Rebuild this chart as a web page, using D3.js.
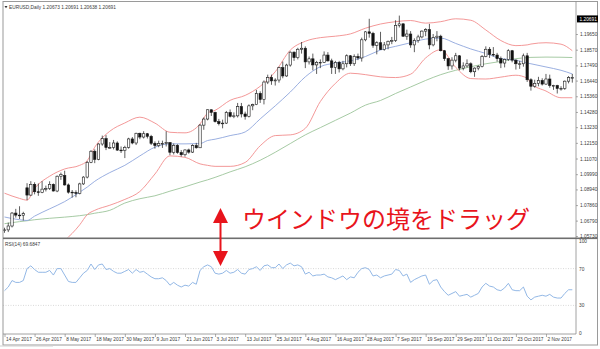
<!DOCTYPE html>
<html>
<head>
<meta charset="utf-8">
<script src="https://cdn.jsdelivr.net/npm/d3@7.9.0/dist/d3.min.js"></script>
<style>
  html, body { margin: 0; padding: 0; background: #fff; }
  svg { display: block; font-family: "Liberation Sans", Arial, sans-serif; }
</style>
</head>
<body>
<svg id="chart" width="600" height="349"></svg>
<script>
// EURUSD daily, 14 Apr 2017 - 13 Nov 2017 (one value per bar)
const opens = [
  1.0612,1.0615,1.0642,1.0731,1.0717,1.0716,1.0905,1.0855,1.0929,1.0878,
  1.0873,1.0896,1.0900,1.0929,1.0883,1.0985,1.0990,1.0925,1.0875,1.0873,
  1.0866,1.0932,1.0979,1.1081,1.1157,1.1101,1.1207,1.1244,1.1183,1.1183,
  1.1214,1.1165,1.1164,1.1184,1.1242,1.1214,1.1281,1.1255,1.1278,1.1260,
  1.1212,1.1196,1.1211,1.1211,1.1217,1.1150,1.1198,1.1148,1.1133,1.1166,
  1.1151,1.1196,1.1181,1.1337,1.1379,1.1443,1.1425,1.1361,1.1347,1.1351,
  1.1424,1.1398,1.1401,1.1465,1.1414,1.1397,1.1470,1.1478,1.1556,1.1514,
  1.1634,1.1666,1.1642,1.1648,1.1733,1.1676,1.1751,1.1840,1.1802,1.1860,
  1.1867,1.1773,1.1794,1.1752,1.1770,1.1770,1.1820,1.1780,1.1735,1.1770,
  1.1725,1.1760,1.1815,1.1760,1.1810,1.1800,1.1925,1.1980,1.1970,1.1887,
  1.1905,1.1858,1.1890,1.1915,1.1920,1.2025,1.2035,1.1950,1.1965,1.1890,
  1.1920,1.1945,1.1985,1.1995,1.1890,1.1940,1.1950,1.1850,1.1795,1.1745,
  1.1785,1.1815,1.1730,1.1745,1.1760,1.1705,1.1730,1.1740,1.1810,1.1860,
  1.1825,1.1820,1.1795,1.1765,1.1790,1.1850,1.1785,1.1760,1.1760,1.1815,
  1.1650,1.1605,1.1625,1.1645,1.1620,1.1655,1.1610,1.1610,1.1590,1.1590,
  1.1640,1.1665
];
const highs = [
  1.0630,1.0665,1.0738,1.0760,1.0778,1.0740,1.0937,1.0951,1.0943,1.0935,
  1.0951,1.0920,1.0950,1.0935,1.0990,1.1010,1.1023,1.0935,1.0890,1.0888,
  1.0940,1.0985,1.1090,1.1165,1.1170,1.1212,1.1265,1.1268,1.1220,1.1235,
  1.1225,1.1190,1.1195,1.1250,1.1255,1.1285,1.1285,1.1295,1.1283,1.1270,
  1.1225,1.1230,1.1230,1.1295,1.1220,1.1210,1.1205,1.1165,1.1170,1.1175,
  1.1205,1.1215,1.1345,1.1390,1.1445,1.1445,1.1430,1.1380,1.1375,1.1435,
  1.1445,1.1425,1.1490,1.1490,1.1430,1.1480,1.1485,1.1580,1.1570,1.1645,
  1.1685,1.1685,1.1660,1.1740,1.1775,1.1760,1.1845,1.1845,1.1870,1.1910,
  1.1880,1.1810,1.1830,1.1780,1.1790,1.1845,1.1840,1.1795,1.1780,1.1780,
  1.1780,1.1825,1.1820,1.1825,1.1830,1.1940,1.1985,1.2070,1.1980,1.1915,
  1.1980,1.1910,1.1920,1.1945,1.2060,1.2092,1.2040,1.1995,1.1985,1.1935,
  1.1960,1.1990,1.2005,1.2035,1.1965,1.1985,1.1960,1.1855,1.1800,1.1805,
  1.1835,1.1820,1.1770,1.1790,1.1770,1.1735,1.1750,1.1820,1.1880,1.1875,
  1.1875,1.1835,1.1810,1.1795,1.1860,1.1855,1.1790,1.1780,1.1830,1.1835,
  1.1660,1.1650,1.1670,1.1660,1.1690,1.1685,1.1615,1.1615,1.1605,1.1645,
  1.1675,1.1690
];
const lows = [
  1.0595,1.0600,1.0632,1.0700,1.0690,1.0680,1.0820,1.0850,1.0860,1.0850,
  1.0868,1.0880,1.0890,1.0880,1.0875,1.0960,1.0920,1.0865,1.0838,1.0840,
  1.0860,1.0925,1.0970,1.1075,1.1075,1.1095,1.1195,1.1165,1.1175,1.1170,
  1.1160,1.1145,1.1110,1.1175,1.1205,1.1200,1.1240,1.1245,1.1245,1.1200,
  1.1175,1.1185,1.1180,1.1190,1.1130,1.1135,1.1140,1.1120,1.1120,1.1140,
  1.1145,1.1175,1.1180,1.1305,1.1370,1.1400,1.1355,1.1335,1.1315,1.1345,
  1.1390,1.1385,1.1390,1.1390,1.1375,1.1390,1.1440,1.1475,1.1490,1.1480,
  1.1620,1.1615,1.1610,1.1630,1.1660,1.1670,1.1740,1.1780,1.1790,1.1830,
  1.1730,1.1755,1.1715,1.1690,1.1730,1.1765,1.1775,1.1690,1.1690,1.1700,
  1.1715,1.1735,1.1745,1.1745,1.1785,1.1775,1.1915,1.1940,1.1870,1.1825,
  1.1855,1.1850,1.1860,1.1895,1.1910,1.2010,1.1945,1.1925,1.1870,1.1840,
  1.1905,1.1935,1.1950,1.1860,1.1880,1.1915,1.1845,1.1780,1.1718,1.1720,
  1.1770,1.1715,1.1715,1.1735,1.1695,1.1670,1.1715,1.1735,1.1805,1.1800,
  1.1810,1.1775,1.1730,1.1735,1.1780,1.1770,1.1720,1.1725,1.1740,1.1635,
  1.1575,1.1595,1.1605,1.1610,1.1615,1.1595,1.1580,1.1555,1.1575,1.1580,
  1.1625,1.1630
];
const closes = [
  1.0615,1.0642,1.0731,1.0717,1.0716,1.0727,1.0855,1.0929,1.0878,1.0873,
  1.0896,1.0900,1.0929,1.0883,1.0985,1.0998,1.0925,1.0875,1.0873,1.0866,
  1.0932,1.0979,1.1081,1.1157,1.1101,1.1207,1.1244,1.1183,1.1183,1.1214,
  1.1165,1.1164,1.1184,1.1242,1.1214,1.1281,1.1255,1.1278,1.1260,1.1212,
  1.1196,1.1211,1.1211,1.1217,1.1150,1.1198,1.1148,1.1133,1.1166,1.1151,
  1.1196,1.1181,1.1337,1.1379,1.1443,1.1425,1.1361,1.1347,1.1351,1.1424,
  1.1398,1.1401,1.1465,1.1414,1.1397,1.1470,1.1478,1.1556,1.1514,1.1634,
  1.1666,1.1642,1.1648,1.1733,1.1676,1.1751,1.1840,1.1802,1.1860,1.1867,
  1.1773,1.1794,1.1752,1.1770,1.1770,1.1820,1.1780,1.1735,1.1770,1.1725,
  1.1760,1.1815,1.1760,1.1810,1.1800,1.1925,1.1980,1.1970,1.1887,1.1905,
  1.1858,1.1890,1.1915,1.1920,1.2025,1.2035,1.1950,1.1965,1.1890,1.1920,
  1.1945,1.1985,1.1995,1.1890,1.1940,1.1950,1.1850,1.1795,1.1745,1.1785,
  1.1815,1.1730,1.1745,1.1760,1.1705,1.1730,1.1740,1.1810,1.1860,1.1825,
  1.1820,1.1795,1.1765,1.1790,1.1850,1.1785,1.1760,1.1760,1.1815,1.1650,
  1.1605,1.1625,1.1645,1.1620,1.1655,1.1610,1.1610,1.1590,1.1590,1.1640,
  1.1665,1.1665
];

// Bollinger bands (20) and long moving average, read at these bar indexes
const bandIdx = [0,4,6,8,12,16,20,22,24,28,32,36,40,44,48,52,54,56,60,64,68,72,76,80,84,88,92,96,100,104,108,112,116,120,124,128,132,136,139,140,144,148,151];
const upperBand = [1.0868,1.0832,1.0820,1.0900,1.0985,1.1035,1.1060,1.1092,1.1185,1.1295,1.1352,1.1392,1.1351,1.1288,1.1284,1.1345,1.1420,1.1439,1.1508,1.1542,1.1605,1.1705,1.1854,1.1915,1.1940,1.1950,1.1966,1.2005,1.2034,1.2050,1.2058,1.2040,1.2050,1.2070,1.2060,1.1993,1.1920,1.1885,1.1890,1.1896,1.1905,1.1895,1.1850];
const middleBand = [1.0704,1.0685,1.0680,1.0710,1.0760,1.0810,1.0875,1.0910,1.0950,1.1010,1.1060,1.1125,1.1185,1.1208,1.1208,1.1210,1.1231,1.1240,1.1265,1.1290,1.1380,1.1470,1.1565,1.1670,1.1740,1.1765,1.1780,1.1810,1.1855,1.1880,1.1905,1.1930,1.1937,1.1900,1.1862,1.1831,1.1795,1.1785,1.1765,1.1760,1.1738,1.1715,1.1690];
const lowerBand = [1.0500,1.0520,1.0480,1.0470,1.0500,1.0545,1.0650,1.0720,1.0750,1.0785,1.0825,1.0880,1.1000,1.1125,1.1115,1.1070,1.1060,1.1053,1.1053,1.1080,1.1195,1.1265,1.1270,1.1315,1.1500,1.1625,1.1695,1.1685,1.1670,1.1665,1.1688,1.1800,1.1857,1.1735,1.1658,1.1655,1.1668,1.1681,1.1660,1.1625,1.1572,1.1526,1.1526];
const longMA = [1.0658,1.0672,1.0678,1.0685,1.0695,1.0703,1.0713,1.0720,1.0730,1.0750,1.0800,1.0830,1.0850,1.0882,1.0912,1.0945,1.0960,1.0977,1.1015,1.1050,1.1095,1.1150,1.1210,1.1270,1.1320,1.1370,1.1420,1.1475,1.1507,1.1555,1.1600,1.1645,1.1685,1.1715,1.1740,1.1760,1.1776,1.1795,1.1802,1.1804,1.1806,1.1805,1.1803];

// RSI(14), one value per bar
const rsi = [
  46,50,57,55,55,57,70,73,69,66,
  66,66,68,63,70,70,63,56,55,55,
  60,65,68,75,69,74,75,69,70,67,
  65,65,67,69,65,69,66,67,64,61,
  59,59,60,57,52,55,52,50,52,51,
  55,53,68,72,74,72,65,64,65,68,
  65,66,69,65,64,69,70,72,68,73,
  74,71,71,75,70,74,76,73,74,72,
  64,66,62,63,63,64,61,60,58,60,
  62,58,61,60,66,70,71,69,62,63,
  60,62,63,64,69,68,62,64,55,58,
  60,62,63,53,57,58,50,45,41,43,
  45,40,41,42,39,41,43,50,54,51,
  50,47,46,49,54,47,46,46,50,40,
  36,39,40,41,40,42,39,38,38,43,
  47,47
];

// axis labels
const priceTicks = [1.0573,1.0679,1.0786,1.0894,1.0999,1.1107,1.1215,1.1323,1.1428,1.1536,1.1644,1.1749,1.1857,1.1965];
const rsiTicks = [100, 70, 30, 0];
const rsiLevels = [70, 30];
const dateLabels = ['14 Apr 2017','26 Apr 2017','8 May 2017','18 May 2017','30 May 2017','9 Jun 2017','21 Jun 2017','3 Jul 2017','13 Jul 2017','25 Jul 2017','4 Aug 2017','16 Aug 2017','28 Aug 2017','7 Sep 2017','19 Sep 2017','29 Sep 2017','11 Oct 2017','23 Oct 2017','2 Nov 2017'];
const dateStep = 8;
const lastPrice = 1.20691;

const svg = d3.select('#chart');
const plotL = 3, plotR = 576, mainTop = 3, mainBottom = 237.5, rsiTop = 239, rsiBottom = 334;
const fontSize = 4.8;
const textColor = '#3a3a3a';

const x = d3.scaleLinear().domain([0, closes.length - 1]).range([4.5, 572.3]);
const yMain = d3.scaleLinear().domain([1.0573, 1.2165]).range([236, 5]);
const yRsi = d3.scaleLinear().domain([0, 100]).range([333, 241]);

// clip for main window
svg.append('clipPath').attr('id', 'mainClip')
  .append('rect')
  .attr('x', plotL).attr('y', mainTop)
  .attr('width', plotR - plotL).attr('height', mainBottom - mainTop);

const main = svg.append('g').attr('clip-path', 'url(#mainClip)');

// -------------------- BANDS + MA -------------------- //
const bandLine = vals => d3.line()
  .x((d, i) => x(bandIdx[i]))
  .y(d => yMain(d))
  .curve(d3.curveMonotoneX)(vals);

main.append('path').attr('d', bandLine(longMA))
  .attr('fill', 'none').attr('stroke', '#9cc49a').attr('stroke-width', 0.9);
main.append('path').attr('d', bandLine(middleBand))
  .attr('fill', 'none').attr('stroke', '#8ea6dc').attr('stroke-width', 0.9);
[upperBand, lowerBand].forEach(b => {
  main.append('path').attr('d', bandLine(b))
    .attr('fill', 'none').attr('stroke', '#f28c8c').attr('stroke-width', 0.9);
});

// -------------------- CANDLES -------------------- //
const bars = d3.range(closes.length);
const bodyW = 2.4;

main.selectAll('.wick')
  .data(bars)
  .join('line')
  .attr('class', 'wick')
  .attr('x1', i => x(i)).attr('x2', i => x(i))
  .attr('y1', i => yMain(highs[i])).attr('y2', i => yMain(lows[i]))
  .attr('stroke', '#1a1a1a').attr('stroke-width', 0.7);

main.selectAll('.body')
  .data(bars)
  .join('rect')
  .attr('class', 'body')
  .attr('x', i => x(i) - bodyW / 2)
  .attr('y', i => yMain(Math.max(opens[i], closes[i])))
  .attr('width', bodyW)
  .attr('height', i => Math.max(0.7, Math.abs(yMain(opens[i]) - yMain(closes[i]))))
  .attr('fill', i => closes[i] >= opens[i] ? '#fff' : '#111')
  .attr('stroke', '#1a1a1a').attr('stroke-width', 0.6);

// -------------------- RSI -------------------- //
svg.selectAll('.level')
  .data(rsiLevels)
  .join('line')
  .attr('class', 'level')
  .attr('x1', plotL).attr('x2', plotR)
  .attr('y1', d => yRsi(d)).attr('y2', d => yRsi(d))
  .attr('stroke', '#c8c8c8').attr('stroke-width', 0.7)
  .attr('stroke-dasharray', '1,1.5');

svg.append('path')
  .datum(rsi)
  .attr('d', d3.line().x((d, i) => x(i)).y(d => yRsi(d)))
  .attr('fill', 'none').attr('stroke', '#93b8e6').attr('stroke-width', 1);

// -------------------- FRAMES -------------------- //
svg.append('rect')
  .attr('x', plotL).attr('y', 1.5).attr('width', 597.5 - plotL).attr('height', 345 - 1.5)
  .attr('fill', 'none').attr('stroke', '#9a9a9a').attr('stroke-width', 1);
svg.append('line')
  .attr('x1', plotR).attr('x2', plotR).attr('y1', 1.5).attr('y2', rsiBottom)
  .attr('stroke', '#8a8a8a').attr('stroke-width', 0.8);
svg.append('line')
  .attr('x1', plotL).attr('x2', plotR).attr('y1', rsiBottom).attr('y2', rsiBottom)
  .attr('stroke', '#8a8a8a').attr('stroke-width', 0.8);
svg.append('rect')
  .attr('x', plotL).attr('y', mainBottom).attr('width', 597.5 - plotL).attr('height', 1.6)
  .attr('fill', '#6e6e6e');

// -------------------- AXES -------------------- //
const priceAxis = svg.append('g')
  .attr('transform', `translate(${plotR},0)`)
  .call(d3.axisRight(yMain).tickValues(priceTicks).tickFormat(d3.format('.5f')).tickSize(2).tickPadding(2));

const rsiAxis = svg.append('g')
  .attr('transform', `translate(${plotR},0)`)
  .call(d3.axisRight(yRsi).tickValues(rsiTicks).tickSize(0).tickPadding(3));

const dateAxis = svg.append('g')
  .attr('transform', `translate(0,${rsiBottom})`)
  .call(d3.axisBottom(x)
    .tickValues(dateLabels.map((d, i) => i * dateStep))
    .tickFormat((d, i) => dateLabels[i])
    .tickSize(3).tickPadding(1));
dateAxis.selectAll('text').attr('text-anchor', 'start').attr('dx', 1);

[priceAxis, rsiAxis, dateAxis].forEach(g => {
  g.select('.domain').remove();
  g.selectAll('text').attr('font-size', fontSize).attr('fill', textColor).attr('font-family', '"Liberation Sans", Arial, sans-serif');
  g.selectAll('line').attr('stroke', '#777').attr('stroke-width', 0.6);
});

// current price marker
svg.append('rect')
  .attr('x', plotR + 1).attr('y', yMain(lastPrice) - 3.5)
  .attr('width', 21).attr('height', 7).attr('fill', '#000');
svg.append('text')
  .attr('x', plotR + 3.5).attr('y', yMain(lastPrice) + 1.7)
  .attr('font-size', fontSize).attr('fill', '#fff')
  .text(d3.format('.5f')(lastPrice));

// window titles
svg.append('path')
  .attr('d', 'M4.5,6 L7.5,6 L6,8.2 Z').attr('fill', '#333');
svg.append('text')
  .attr('x', 9).attr('y', 8.5)
  .attr('font-size', fontSize).attr('fill', textColor)
  .text('EURUSD,Daily  1.20673 1.20691 1.20638 1.20691');
svg.append('text')
  .attr('x', 5).attr('y', 245.5)
  .attr('font-size', fontSize).attr('fill', textColor)
  .text('RSI(14) 69.6847');

// bottom scroll strip
svg.append('line')
  .attr('x1', 0).attr('x2', 53).attr('y1', 346).attr('y2', 346)
  .attr('stroke', '#cfcfcf').attr('stroke-width', 1.2);

// -------------------- ANNOTATION -------------------- //
const red = '#e8141c';
const ax = 220.5;
svg.append('line')
  .attr('x1', ax).attr('x2', ax).attr('y1', 220).attr('y2', 254)
  .attr('stroke', red).attr('stroke-width', 2);
svg.append('path')
  .attr('d', `M${ax},208 L${ax - 7.5},223 L${ax + 7.5},223 Z M${ax},266 L${ax - 7.5},251 L${ax + 7.5},251 Z`)
  .attr('fill', red);
svg.append('text')
  .attr('x', 242).attr('y', 227.5)
  .attr('font-family', '"Noto Sans CJK JP", sans-serif')
  .attr('font-size', 24)
  .attr('fill', red)
  .text('ウインドウの境をドラッグ');
</script>
</body>
</html>
